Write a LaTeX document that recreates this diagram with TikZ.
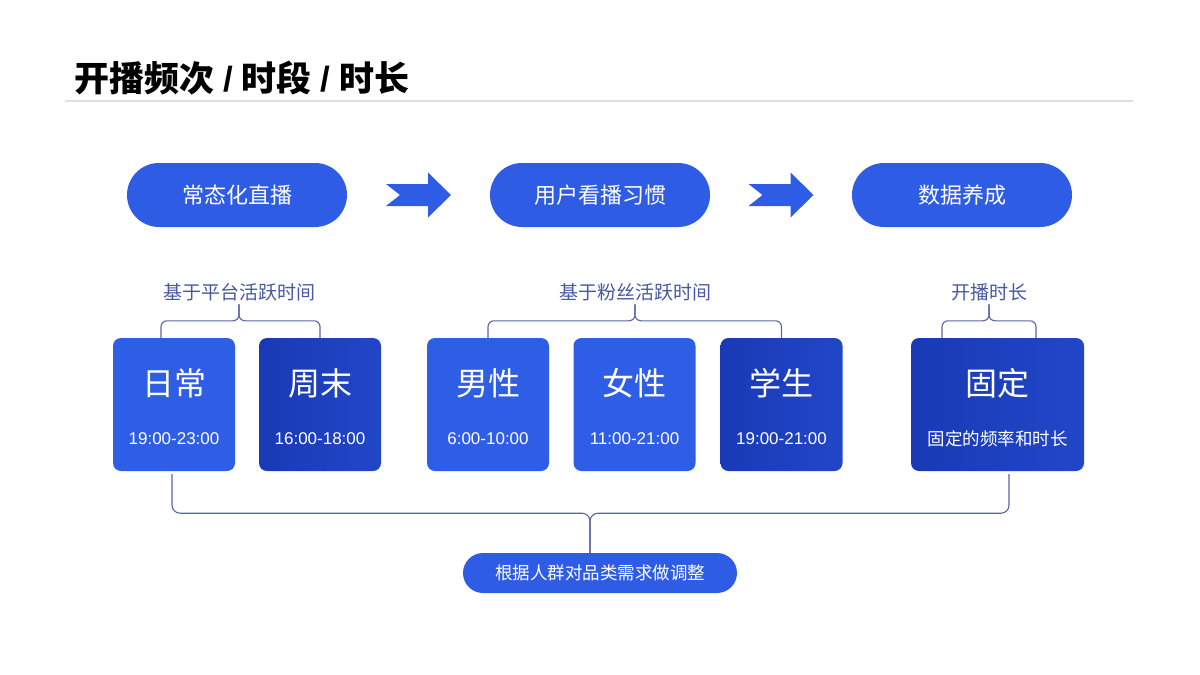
\documentclass[tikz,border=0pt]{standalone}
\usepackage{fontspec}
\setmainfont{Liberation Sans}
\newfontfamily\cjk{Noto Sans CJK SC}
\usetikzlibrary{positioning}
\definecolor{pillblue}{RGB}{46,92,228}
\definecolor{lightbox}{RGB}{47,94,230}
\definecolor{darkboxA}{RGB}{25,58,182}
\definecolor{darkboxB}{RGB}{33,70,200}
\definecolor{bracecol}{RGB}{92,100,170}
\definecolor{labelcol}{RGB}{72,88,165}
\tikzset{
  flowarrow/.pic={\fill[pillblue] (-32.5,-11) -- (9.5,-11) -- (9.5,-22.5) -- (32.5,0) -- (9.5,22.5) -- (9.5,11) -- (-32.5,11) -- (-18.5,0) -- cycle;}
}
\newcommand{\sep}{\hspace{9pt}{\rmfamily /}\hspace{9pt}}

\begin{document}
\begin{tikzpicture}[x=1pt,y=-1pt,
  pill/.style={fill=pillblue, rounded corners=32pt, minimum width=220pt, minimum height=64pt, inner sep=0, text=white, font=\cjk\fontsize{22}{22}\selectfont},
  slot/.style={rounded corners=8pt, minimum width=122pt, minimum height=133pt, inner sep=0},
  lightslot/.style={slot, fill=lightbox},
  darkslot/.style={slot, left color=darkboxA, right color=darkboxB},
  bigname/.style={text=white, font=\cjk\fontsize{32}{32}\selectfont},
  hours/.style={text=white, font=\fontsize{17}{17}\selectfont},
  bracelabel/.style={text=labelcol, font=\cjk\fontsize{19}{19}\selectfont},
  bracelink/.style={bracecol, line width=1.1pt, rounded corners=6pt}]
\fill[white] (0,0) rectangle (1200,675);
\useasboundingbox (0,0) rectangle (1200,675);
\node[anchor=west, inner sep=0, font=\cjk\bfseries\fontsize{35}{35}\selectfont] (title) at (74,78) {开播频次\sep 时段\sep 时长};
\draw[black!12, line width=1.5pt] (65,101) -- (1133,101);
% top row
\node[pill] (routine) at (237,195) {常态化直播};
\node[pill] (habit) at (600,195) {用户看播习惯};
\node[pill] (nurture) at (962,195) {数据养成};
\path (routine.east) -- (habit.west) coordinate[pos=0.5] (step1);
\path (habit.east) -- (nurture.west) coordinate[pos=0.5] (step2);
\pic at (step1) {flowarrow};
\pic at (step2) {flowarrow};
% time slots
\node[lightslot] (daily) at (174,404.5) {};
\node[bigname] (dailyname) at (174,383) {日常};
\node[hours] (dailyhours) at (174,439) {19:00-23:00};
\node[darkslot] (weekend) at (320,404.5) {};
\node[bigname] (weekendname) at (320,383) {周末};
\node[hours] (weekendhours) at (320,439) {16:00-18:00};
\node[lightslot] (male) at (488,404.5) {};
\node[bigname] (malename) at (488,383) {男性};
\node[hours] (malehours) at (488,439) {6:00-10:00};
\node[lightslot] (female) at (634.5,404.5) {};
\node[bigname] (femalename) at (634.5,383) {女性};
\node[hours] (femalehours) at (634.5,439) {11:00-21:00};
\node[darkslot] (student) at (781.5,404.5) {};
\node[bigname] (studentname) at (781.5,383) {学生};
\node[hours] (studenthours) at (781.5,439) {19:00-21:00};
\node[darkslot, minimum width=173pt] (fixed) at (997.5,404.5) {};
\node[bigname] (fixedname) at (997.5,383) {固定};
\node[hours, font=\cjk\fontsize{17.5}{17.5}\selectfont] (fixedhours) at (997.5,439) {固定的频率和时长};
% braces
\node[bracelabel] (platform) at (239,292) {基于平台活跃时间};
\node[bracelabel] (fans) at (635,292) {基于粉丝活跃时间};
\node[bracelabel] (duration) at (989,292) {开播时长};
\draw[bracelink] ([xshift=-13pt]daily.north) -- ++(0,-17) -| (platform.south);
\draw[bracelink] (weekend.north) -- ++(0,-17) -| (platform.south);
\draw[bracelink] (male.north) -- ++(0,-17) -| (fans.south);
\draw[bracelink] (student.north) -- ++(0,-17) -| (fans.south);
\draw[bracelink] ([xshift=-55.5pt]fixed.north) -- ++(0,-17) -| (duration.south);
\draw[bracelink] ([xshift=38.5pt]fixed.north) -- ++(0,-17) -| (duration.south);
% adjustment
\node[pill, minimum width=274pt, minimum height=40pt, rounded corners=20pt, font=\cjk\fontsize{17.5}{17.5}\selectfont] (adjust) at (600,573) {根据人群对品类需求做调整};
\draw[bracelink, rounded corners=8pt] ([xshift=-2pt,yshift=-3pt]daily.south) -- ++(0,39) -| ([xshift=-10pt]adjust.north);
\draw[bracelink, rounded corners=8pt] ([xshift=11.5pt,yshift=-3pt]fixed.south) -- ++(0,39) -| ([xshift=-10pt]adjust.north);
\end{tikzpicture}
\end{document}
